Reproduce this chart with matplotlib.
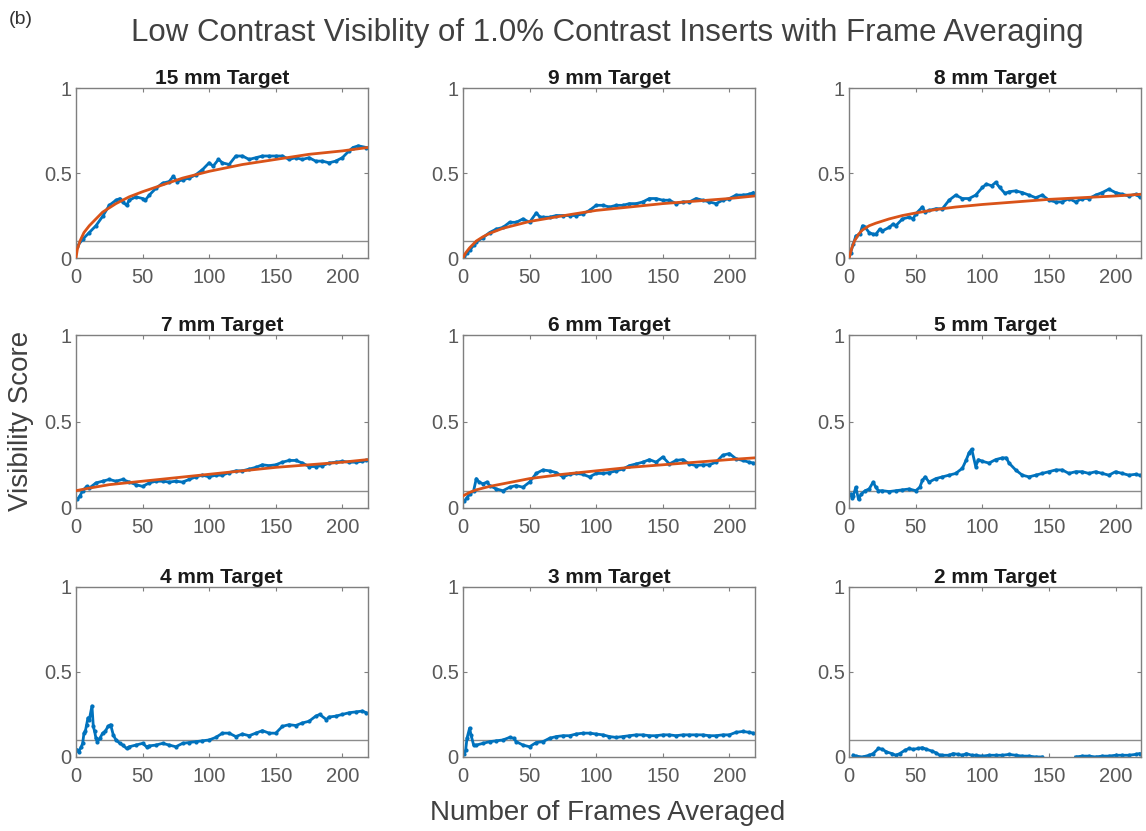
import numpy as np
import matplotlib.pyplot as plt

plt.rcParams['font.family'] = ['Liberation Sans', 'DejaVu Sans']

titles = ['15 mm Target', '9 mm Target', '8 mm Target',
          '7 mm Target', '6 mm Target', '5 mm Target',
          '4 mm Target', '3 mm Target', '2 mm Target']

# visibility score (frames, score)
frames_15 = [1, 5, 10, 15, 20, 25, 30, 33, 35, 38, 40, 45, 50, 52, 55, 60, 65, 70, 73, 76, 80, 85, 90, 95,
             100, 103, 107, 110, 115, 120, 125, 130, 135, 140, 145, 150, 155, 160, 165, 170, 175, 180,
             185, 190, 195, 200, 205, 208, 212, 218]
score_15 = [0.07, 0.11, 0.15, 0.19, 0.245, 0.31, 0.34, 0.35, 0.33, 0.31, 0.34, 0.36, 0.35, 0.34, 0.37, 0.41,
            0.44, 0.45, 0.48, 0.45, 0.46, 0.47, 0.49, 0.52, 0.56, 0.54, 0.58, 0.56, 0.55, 0.60, 0.60, 0.58,
            0.59, 0.60, 0.60, 0.60, 0.60, 0.58, 0.59, 0.58, 0.59, 0.57, 0.57, 0.56, 0.57, 0.59, 0.63, 0.65,
            0.66, 0.65]

frames_9 = [1, 3, 5, 8, 10, 15, 20, 25, 30, 35, 40, 45, 50, 55, 58, 60, 65, 70, 75, 80, 85, 90, 95, 100,
            105, 110, 115, 120, 125, 130, 135, 140, 145, 150, 155, 160, 165, 170, 175, 180, 185, 190, 195,
            200, 205, 210, 215, 218]
score_9 = [0.01, 0.03, 0.045, 0.075, 0.095, 0.12, 0.15, 0.17, 0.18, 0.21, 0.21, 0.23, 0.21, 0.265, 0.24,
           0.24, 0.24, 0.25, 0.25, 0.25, 0.25, 0.26, 0.28, 0.31, 0.31, 0.30, 0.31, 0.31, 0.32, 0.32, 0.33,
           0.35, 0.35, 0.34, 0.34, 0.32, 0.33, 0.33, 0.35, 0.34, 0.33, 0.32, 0.34, 0.35, 0.37, 0.37, 0.375,
           0.385]

frames_8 = [1, 3, 5, 8, 10, 12, 15, 18, 20, 23, 25, 30, 33, 35, 40, 45, 48, 50, 55, 57, 60, 65, 70, 75,
            80, 85, 90, 95, 100, 103, 107, 110, 113, 117, 120, 125, 130, 135, 140, 145, 150, 155, 160,
            165, 170, 175, 180, 185, 190, 195, 200, 205, 210, 215, 218]
score_8 = [0.03, 0.08, 0.13, 0.14, 0.19, 0.18, 0.15, 0.14, 0.14, 0.17, 0.16, 0.18, 0.20, 0.19, 0.23, 0.24,
           0.23, 0.26, 0.30, 0.27, 0.28, 0.29, 0.29, 0.34, 0.37, 0.35, 0.35, 0.37, 0.415, 0.435, 0.425,
           0.445, 0.415, 0.38, 0.39, 0.395, 0.385, 0.37, 0.355, 0.37, 0.34, 0.33, 0.33, 0.35, 0.33, 0.35,
           0.35, 0.37, 0.385, 0.405, 0.385, 0.375, 0.365, 0.375, 0.36]

frames_7 = [1, 3, 5, 8, 10, 15, 20, 25, 30, 35, 40, 45, 50, 55, 60, 65, 70, 75, 80, 85, 90, 95, 100, 105,
            110, 115, 120, 125, 130, 135, 140, 145, 150, 155, 160, 165, 170, 175, 180, 185, 190, 195, 200,
            205, 210, 215, 218]
score_7 = [0.05, 0.07, 0.10, 0.125, 0.115, 0.145, 0.155, 0.165, 0.155, 0.165, 0.15, 0.135, 0.125, 0.145,
           0.155, 0.155, 0.15, 0.155, 0.15, 0.165, 0.18, 0.19, 0.18, 0.19, 0.19, 0.205, 0.215, 0.215, 0.225,
           0.235, 0.25, 0.245, 0.25, 0.265, 0.275, 0.275, 0.26, 0.24, 0.24, 0.245, 0.26, 0.265, 0.27, 0.265,
           0.265, 0.27, 0.275]

frames_6 = [1, 3, 5, 8, 10, 12, 15, 18, 20, 25, 30, 35, 40, 45, 50, 55, 60, 65, 70, 75, 80, 85, 90, 95,
            100, 105, 110, 115, 120, 125, 130, 135, 140, 145, 150, 155, 160, 165, 170, 175, 180, 185, 190,
            195, 200, 205, 210, 215, 218]
score_6 = [0.04, 0.06, 0.08, 0.10, 0.17, 0.15, 0.14, 0.15, 0.13, 0.11, 0.10, 0.12, 0.13, 0.12, 0.15, 0.20,
           0.22, 0.215, 0.205, 0.18, 0.195, 0.20, 0.195, 0.18, 0.20, 0.20, 0.205, 0.215, 0.225, 0.245, 0.255,
           0.265, 0.28, 0.265, 0.295, 0.255, 0.275, 0.28, 0.255, 0.245, 0.25, 0.25, 0.265, 0.305, 0.315,
           0.285, 0.275, 0.265, 0.26]

frames_5 = [1, 2, 3, 5, 7, 9, 12, 15, 18, 20, 22, 25, 30, 35, 40, 45, 50, 53, 55, 57, 60, 65, 70, 75, 80,
            85, 88, 90, 92, 95, 97, 100, 105, 110, 115, 118, 120, 125, 130, 135, 140, 145, 150, 155, 160,
            165, 170, 175, 180, 185, 190, 195, 200, 205, 210, 215, 218]
score_5 = [0.08, 0.06, 0.07, 0.12, 0.05, 0.08, 0.10, 0.11, 0.15, 0.12, 0.10, 0.10, 0.095, 0.10, 0.105,
           0.11, 0.10, 0.12, 0.16, 0.18, 0.15, 0.17, 0.18, 0.19, 0.20, 0.23, 0.28, 0.32, 0.34, 0.24, 0.28,
           0.27, 0.26, 0.28, 0.29, 0.29, 0.26, 0.22, 0.19, 0.18, 0.19, 0.20, 0.21, 0.22, 0.22, 0.20, 0.21,
           0.21, 0.20, 0.21, 0.20, 0.19, 0.21, 0.20, 0.19, 0.195, 0.19]

frames_4 = [1, 2, 4, 5, 6, 7, 8, 9, 10, 12, 13, 14, 15, 16, 18, 20, 22, 24, 26, 28, 30, 33, 35, 38, 40,
            45, 50, 53, 55, 60, 65, 70, 75, 80, 85, 90, 95, 100, 105, 110, 115, 120, 125, 130, 135, 140,
            145, 150, 155, 160, 165, 170, 175, 180, 183, 188, 190, 195, 200, 205, 210, 215, 218]
score_4 = [0.04, 0.03, 0.06, 0.08, 0.14, 0.15, 0.19, 0.23, 0.22, 0.30, 0.18, 0.15, 0.11, 0.09, 0.11, 0.14,
           0.15, 0.18, 0.19, 0.13, 0.10, 0.08, 0.07, 0.05, 0.06, 0.07, 0.08, 0.06, 0.065, 0.07, 0.08, 0.07,
           0.06, 0.08, 0.085, 0.09, 0.095, 0.10, 0.115, 0.14, 0.14, 0.12, 0.135, 0.125, 0.14, 0.155, 0.14,
           0.14, 0.18, 0.19, 0.185, 0.20, 0.21, 0.24, 0.25, 0.22, 0.235, 0.24, 0.25, 0.26, 0.265, 0.27, 0.26]

frames_3 = [1, 2, 3, 5, 6, 8, 10, 15, 20, 25, 30, 35, 38, 40, 45, 50, 55, 60, 65, 70, 75, 80, 85, 90, 95,
            100, 105, 110, 115, 120, 125, 130, 135, 140, 145, 150, 155, 160, 165, 170, 175, 180, 185, 190,
            195, 200, 205, 210, 215, 218]
score_3 = [0.02, 0.04, 0.11, 0.17, 0.13, 0.07, 0.07, 0.08, 0.09, 0.095, 0.10, 0.115, 0.11, 0.09, 0.07,
           0.06, 0.085, 0.09, 0.11, 0.12, 0.125, 0.125, 0.135, 0.14, 0.14, 0.135, 0.13, 0.12, 0.115, 0.12,
           0.125, 0.13, 0.13, 0.125, 0.125, 0.13, 0.13, 0.125, 0.13, 0.13, 0.13, 0.13, 0.125, 0.125, 0.13,
           0.13, 0.145, 0.15, 0.145, 0.14]

# no visible points between about 146 and 168 frames
frames_2 = [3, 5, 10, 15, 18, 22, 25, 28, 32, 35, 38, 42, 45, 48, 52, 55, 58, 62, 65, 68, 70, 75, 78, 82,
            85, 88, 92, 95, 100, 105, 110, 115, 120, 125, 130, 135, 140, 145, 157, 170, 175, 180, 185, 190,
            195, 200, 205, 210, 215, 218]
score_2 = [0.01, 0.005, 0.0, 0.01, 0.02, 0.05, 0.045, 0.03, 0.02, 0.01, 0.02, 0.04, 0.05, 0.045, 0.05,
           0.055, 0.045, 0.035, 0.025, 0.01, 0.01, 0.01, 0.02, 0.015, 0.01, 0.02, 0.01, 0.01, 0.005, 0.01,
           0.01, 0.01, 0.015, 0.01, 0.005, 0.005, 0.0, 0.0, np.nan, 0.0, 0.005, 0.005, 0.0, 0.005, 0.005,
           0.01, 0.01, 0.01, 0.015, 0.02]

# fitted curves (first five panels)
fit_x_15 = [0, 1, 3, 6, 10, 15, 20, 30, 40, 50, 65, 80, 100, 125, 150, 175, 200, 219]
fit_15 = [0.0, 0.05, 0.10, 0.15, 0.19, 0.23, 0.27, 0.32, 0.36, 0.39, 0.43, 0.47, 0.51, 0.55, 0.58, 0.61,
          0.63, 0.65]
fit_x_9 = [0, 2, 5, 10, 15, 20, 30, 40, 50, 65, 80, 100, 125, 150, 175, 200, 219]
fit_9 = [0.0, 0.03, 0.06, 0.10, 0.125, 0.145, 0.175, 0.195, 0.215, 0.235, 0.255, 0.28, 0.30, 0.32, 0.335,
         0.35, 0.365]
fit_x_8 = [0, 1, 2, 4, 7, 10, 15, 20, 30, 40, 50, 65, 80, 100, 125, 150, 175, 200, 219]
fit_8 = [0.0, 0.03, 0.06, 0.10, 0.14, 0.165, 0.19, 0.205, 0.23, 0.25, 0.265, 0.285, 0.30, 0.315, 0.33,
         0.345, 0.355, 0.365, 0.375]
fit_x_7 = [0, 10, 25, 50, 75, 100, 125, 150, 175, 200, 219]
fit_7 = [0.10, 0.115, 0.135, 0.155, 0.175, 0.195, 0.215, 0.235, 0.25, 0.265, 0.28]
fit_x_6 = [0, 5, 10, 20, 30, 50, 75, 100, 125, 150, 175, 200, 219]
fit_6 = [0.07, 0.09, 0.105, 0.125, 0.14, 0.17, 0.195, 0.215, 0.235, 0.25, 0.265, 0.28, 0.29]

threshold = 0.1

data = [(frames_15, score_15), (frames_9, score_9), (frames_8, score_8),
        (frames_7, score_7), (frames_6, score_6), (frames_5, score_5),
        (frames_4, score_4), (frames_3, score_3), (frames_2, score_2)]
fits = [(fit_x_15, fit_15), (fit_x_9, fit_9), (fit_x_8, fit_8), (fit_x_7, fit_7), (fit_x_6, fit_6)]

blue = '#0072BD'
orange = '#D95319'
axis_grey = '#7f7f7f'

fig = plt.figure(figsize=(11.46, 8.31), dpi=100)

col_left = [0.0663, 0.404, 0.741]
col_width = 0.2545
row_bottom = [0.6895, 0.3887, 0.0891]
row_height = [0.2046, 0.208, 0.2046]

for i in range(9):
    r, c = divmod(i, 3)
    ax = fig.add_axes([col_left[c], row_bottom[r], col_width, row_height[r]])
    fx, fy = data[i]
    ax.axhline(threshold, color='#8c8c8c', lw=1.0, zorder=1)
    ax.plot(fx, fy, color=blue, lw=2.0, marker='.', ms=4, zorder=2)
    if i < len(fits):
        ax.plot(fits[i][0], fits[i][1], color=orange, lw=2.0, zorder=3)
    ax.set_xlim(0, 219)
    ax.set_ylim(0, 1)
    ax.set_xticks([0, 50, 100, 150, 200])
    ax.set_yticks([0, 0.5, 1])
    ax.set_yticklabels(['0', '0.5', '1'])
    ax.tick_params(direction='in', top=True, right=True, length=3, width=0.8,
                   colors=axis_grey, labelcolor='#595959', labelsize=14.5)
    ax.tick_params(axis='x', pad=7)
    ax.tick_params(axis='y', pad=3)
    for s in ax.spines.values():
        s.set_color(axis_grey)
        s.set_linewidth(1.0)
    ax.set_title(titles[i], fontsize=15, fontweight='bold', pad=3, color='#1a1a1a')

fig.text(0.53, 0.96, 'Low Contrast Visiblity of 1.0% Contrast Inserts with Frame Averaging',
         ha='center', va='center', fontsize=22.5, color='#404040')
fig.text(0.008, 0.977, '(b)', ha='left', va='center', fontsize=14, color='#333333')
fig.text(0.018, 0.494, 'Visibility Score', rotation=90, ha='center', va='center',
         fontsize=20, color='#404040')
fig.text(0.53, 0.022, 'Number of Frames Averaged', ha='center', va='center',
         fontsize=20, color='#404040')

fig.savefig('out.png', dpi=100)
